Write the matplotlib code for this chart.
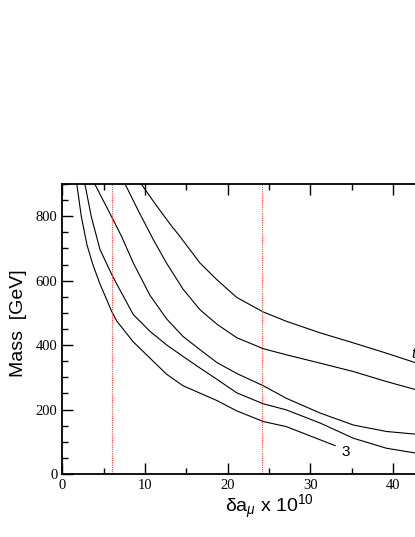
import numpy as np
import matplotlib.pyplot as plt
from matplotlib.ticker import MultipleLocator

plt.rcParams['mathtext.fontset'] = 'custom'
plt.rcParams['mathtext.rm'] = 'Liberation Sans'
plt.rcParams['mathtext.it'] = 'Liberation Sans:italic'

# curves (delta a_mu x 1e10, mass in GeV)
x_a = [1.76, 2.3, 3.0, 3.7, 4.56, 5.97, 6.58, 8.59, 10.6, 12.6, 14.6, 16.65, 18.7, 21.1, 24.3, 27.1, 29.1, 33.0]
y_a = [900, 800, 710, 650, 590, 505, 475, 410, 360, 310, 274, 251, 228, 196, 163, 147, 127, 88]

x_b = [2.74, 3.5, 4.56, 5.97, 6.58, 8.59, 10.6, 12.6, 14.6, 16.65, 18.7, 21.1, 24.3, 27.1, 31.2, 35.2, 39.2, 43.0]
y_b = [900, 800, 697, 620, 590, 495, 443, 401, 365, 329, 294, 252, 218, 199, 158, 111, 80, 64]

x_c = [3.93, 6.0, 7.18, 8.59, 10.6, 12.6, 14.6, 16.65, 18.7, 21.1, 24.3, 27.1, 31.2, 35.2, 39.2, 43.0]
y_c = [900, 797, 737, 655, 555, 482, 427, 386, 346, 312, 274, 235, 189, 152, 132, 123]

x_d = [7.6, 9.24, 11.0, 12.6, 14.6, 16.65, 18.7, 21.1, 24.3, 27.1, 31.2, 35.2, 39.2, 43.0]
y_d = [900, 815, 728, 655, 574, 510, 465, 423, 389, 370, 344, 318, 287, 260]

x_e = [9.56, 11.25, 13.26, 14.0, 16.65, 18.7, 21.1, 24.3, 27.1, 31.2, 35.2, 39.2, 43.0]
y_e = [900, 838, 768, 745, 655, 603, 548, 503, 474, 438, 407, 375, 343]

curves = [(x_a, y_a), (x_b, y_b), (x_c, y_c), (x_d, y_d), (x_e, y_e)]

# dotted vertical lines
vlines = [6.0, 24.2]

fig = plt.figure(figsize=(4.15, 5.37), dpi=100)
ax = fig.add_axes([0.150, 0.1173, 0.9964, 0.540])

for xs, ys in curves:
    ax.plot(xs, ys, color='black', lw=0.8)

for xv in vlines:
    ax.axvline(xv, color='#ff4040', lw=0.8, linestyle=(0, (1, 1)))

ax.text(34.3, 68, '3', fontsize=11, family='Liberation Sans', ha='center', va='center')
ax.text(42.2, 361, r'tan$\beta$', fontsize=11, family='Liberation Sans', style='italic',
        ha='left', va='baseline')

ax.set_xlim(0, 50)
ax.set_ylim(0, 900)
ax.xaxis.set_major_locator(MultipleLocator(10))
ax.xaxis.set_minor_locator(MultipleLocator(5))
ax.yaxis.set_major_locator(MultipleLocator(200))
ax.yaxis.set_minor_locator(MultipleLocator(50))
ax.tick_params(which='both', direction='in', top=True, right=True, width=1.0)
ax.tick_params(which='major', length=8)
ax.tick_params(which='minor', length=4)
ax.set_xticks([0, 10, 20, 30, 40])
for lab in ax.get_xticklabels() + ax.get_yticklabels():
    lab.set_family('Liberation Serif')
    lab.set_fontsize(10.5)
for sp in ax.spines.values():
    sp.set_linewidth(1.3)

ax.set_ylabel('Mass  [GeV]', fontsize=14, family='Liberation Sans')
ax.yaxis.set_label_coords(-0.085, 0.52)
ax.set_xlabel(r'$\mathrm{\delta a}_{\mu}$ x 10$^{10}$', fontsize=14, family='Liberation Sans')
ax.xaxis.set_label_coords(0.5, -0.065)

fig.savefig('out.png', dpi=100)
